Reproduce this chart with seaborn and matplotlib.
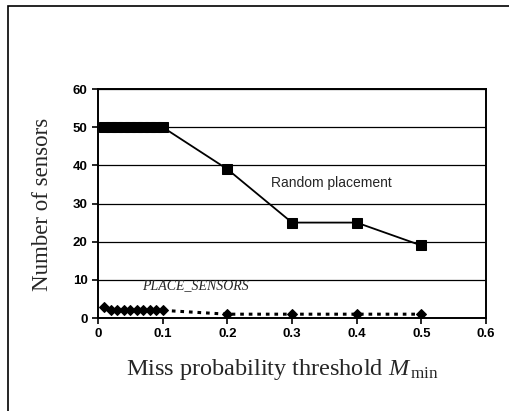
import numpy as np
import pandas as pd
import seaborn as sns
import matplotlib.pyplot as plt
from matplotlib.patches import Rectangle

# 数据
random_x = [0.01, 0.02, 0.03, 0.04, 0.05, 0.06, 0.07, 0.08, 0.09, 0.1, 0.2, 0.3, 0.4, 0.5]
random_y = [50, 50, 50, 50, 50, 50, 50, 50, 50, 50, 39, 25, 25, 19]
place_x = [0.01, 0.02, 0.03, 0.04, 0.05, 0.06, 0.07, 0.08, 0.09, 0.1, 0.2, 0.3, 0.4, 0.5]
place_y = [3, 2, 2, 2, 2, 2, 2, 2, 2, 2, 1, 1, 1, 1]
x_ticks = [0, 0.1, 0.2, 0.3, 0.4, 0.5, 0.6]
y_ticks = [0, 10, 20, 30, 40, 50, 60]

df_random = pd.DataFrame({'x': random_x, 'y': random_y})
df_place = pd.DataFrame({'x': place_x, 'y': place_y})

sns.set_style('white')
plt.rcParams['font.family'] = ['Liberation Sans', 'DejaVu Sans']
plt.rcParams['mathtext.fontset'] = 'custom'
plt.rcParams['mathtext.rm'] = 'Liberation Serif'
plt.rcParams['mathtext.it'] = 'Liberation Serif:italic'

fig = plt.figure(figsize=(5.09, 4.11), dpi=100)
# 外框
fig.patches.append(Rectangle((8 / 509, -0.05), 1.2, 1 - 6 / 411 + 0.05, transform=fig.transFigure,
                             fill=False, edgecolor='black', linewidth=1.2))
ax = fig.add_axes([98 / 509, 1 - 318 / 411, 388 / 509, 229 / 411])

sns.lineplot(data=df_random, x='x', y='y', ax=ax, color='black', linewidth=1.3,
             marker='s', markersize=7, markeredgecolor='black')
sns.lineplot(data=df_place, x='x', y='y', ax=ax, color='black', linewidth=2.2,
             linestyle=(0, (1.2, 1.6)), marker='D', markersize=5.5, markeredgecolor='black')

ax.set_xlim(0, 0.6)
ax.set_ylim(0, 60)
ax.set_xticks(x_ticks)
ax.set_xticklabels(['0', '0.1', '0.2', '0.3', '0.4', '0.5', '0.6'])
ax.set_yticks(y_ticks)
ax.yaxis.grid(True, color='black', linewidth=0.9)
ax.tick_params(axis='both', direction='out', length=4, width=1.2, labelsize=9.5, colors='black',
               bottom=True, left=True)
for lab in ax.get_xticklabels() + ax.get_yticklabels():
    lab.set_fontweight('bold')
for s in ax.spines.values():
    s.set_color('black')
    s.set_linewidth(1.4)

ax.set_xlabel(r'Miss probability threshold $M_{\,\rm min}$', fontsize=17.5,
              family='Liberation Serif')
ax.xaxis.set_label_coords(0.476, -0.17)
ax.set_ylabel('Number of sensors', fontsize=16.5, family='Liberation Serif')
ax.yaxis.set_label_coords(-0.115, 0.495)

ax.text(0.268, 35.4, 'Random placement', fontsize=10, va='center')
ax.text(0.068, 8.4, 'PLACE_SENSORS', fontsize=10, family='Liberation Serif', style='italic',
        va='center')

fig.savefig('out.png', dpi=100)
